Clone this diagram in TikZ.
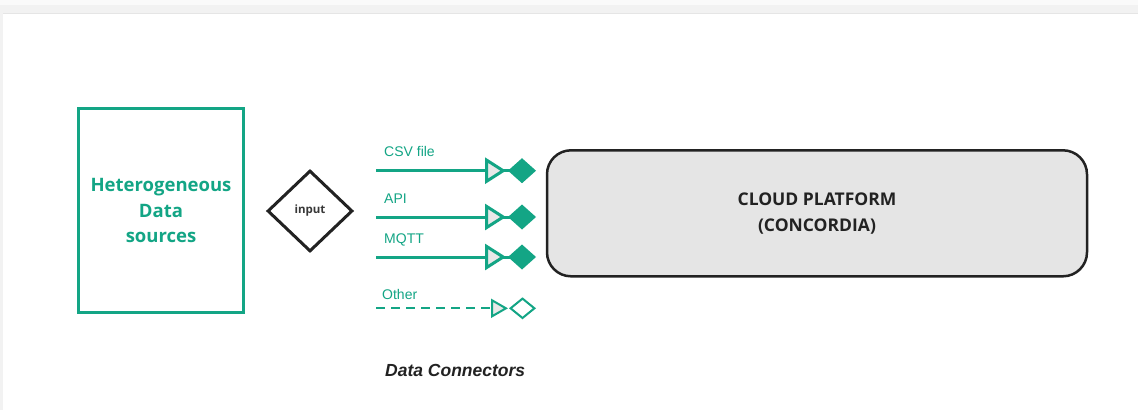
\documentclass[tikz,border=0pt]{standalone}
\usepackage{fontspec}
\setmainfont{Liberation Sans}
\newfontfamily\opensans{Open Sans}
\usetikzlibrary{shapes.geometric,arrows.meta}

\definecolor{teal}{HTML}{13A585}
\definecolor{ink}{HTML}{222222}
\definecolor{panelgray}{HTML}{E5E5E5}
\definecolor{tipgray}{HTML}{E8E8E8}
\definecolor{bandgray}{HTML}{F2F2F2}

\tikzset{
  sourcebox/.style={draw=teal, line width=3pt, rectangle, inner sep=0pt,
    minimum width=165pt, minimum height=204pt, text=teal,
    font=\opensans\bfseries\fontsize{18.5}{25.5}\selectfont, align=center},
  gatebox/.style={draw=ink, line width=3pt, diamond, aspect=1, inner sep=0pt,
    minimum width=85pt, minimum height=81pt, text=ink!90,
    font=\opensans\bfseries\fontsize{11.5}{13}\selectfont},
  platformbox/.style={draw=ink, fill=panelgray, line width=2.5pt, rectangle,
    rounded corners=24pt, inner sep=0pt, minimum width=540pt,
    minimum height=126pt, text=ink, align=center,
    font=\opensans\bfseries\fontsize{17.5}{25.7}\selectfont},
  connlabel/.style={text=teal, font=\fontsize{14}{16}\selectfont,
    anchor=base west, inner sep=0pt},
  connector/.style={draw=teal, line width=3pt,
    -{Triangle[open, fill=tipgray, length=21pt, width=26pt, sep=2pt]
      Diamond[length=28pt, width=25pt]}},
  optconnector/.style={draw=teal, line width=2pt, dash pattern=on 9pt off 6pt,
    -{Triangle[open, fill=tipgray, length=17pt, width=19pt, sep=1pt]
      Diamond[open, fill=white, length=27pt, width=22pt]}},
}

\begin{document}
\begin{tikzpicture}[x=1pt, y=-1pt]
  \useasboundingbox (0,0) rectangle (1138,410);
  % page backdrop and white canvas
  \fill[bandgray] (0,0) rectangle (1138,410);
  \fill[white!60!bandgray] (0,0) rectangle (1138,5);
  \fill[white] (3,14) rectangle (1138,410);
  \draw[panelgray, line width=1.2pt] (3,13.4) -- (1138,13.4);

  % main blocks
  \node[sourcebox] (src) at (161,210.5) {Heterogeneous\\Data\\sources};
  \node[gatebox] (inp) at (310,211) {input};
  \node[platformbox] (cloud) at (817,213.3) {CLOUD PLATFORM\\(CONCORDIA)};

  % connector end points
  \coordinate (csvA) at (376,170.7);   \coordinate (csvB) at (536,170.7);
  \coordinate (apiA) at (376,217);     \coordinate (apiB) at (536,217);
  \coordinate (mqttA) at (376,257);    \coordinate (mqttB) at (536,257);
  \coordinate (othA) at (376,308.3);   \coordinate (othB) at (536,308.3);

  % data connectors
  \draw[connector] (csvA) -- (csvB);
  \draw[connector] (apiA) -- (apiB);
  \draw[connector] (mqttA) -- (mqttB);
  \draw[optconnector] (othA) -- (othB);

  \node[connlabel] (lcsv) at (384,156.5) {CSV file};
  \node[connlabel] (lapi) at (384,203) {API};
  \node[connlabel] (lmqtt) at (384,243) {MQTT};
  \node[connlabel] (loth) at (382,299.5) {Other};

  \node[text=ink, font=\bfseries\itshape\fontsize{17.5}{20}\selectfont,
    anchor=base west, inner sep=0pt] (title) at (385,376.5) {Data Connectors};
\end{tikzpicture}
\end{document}
